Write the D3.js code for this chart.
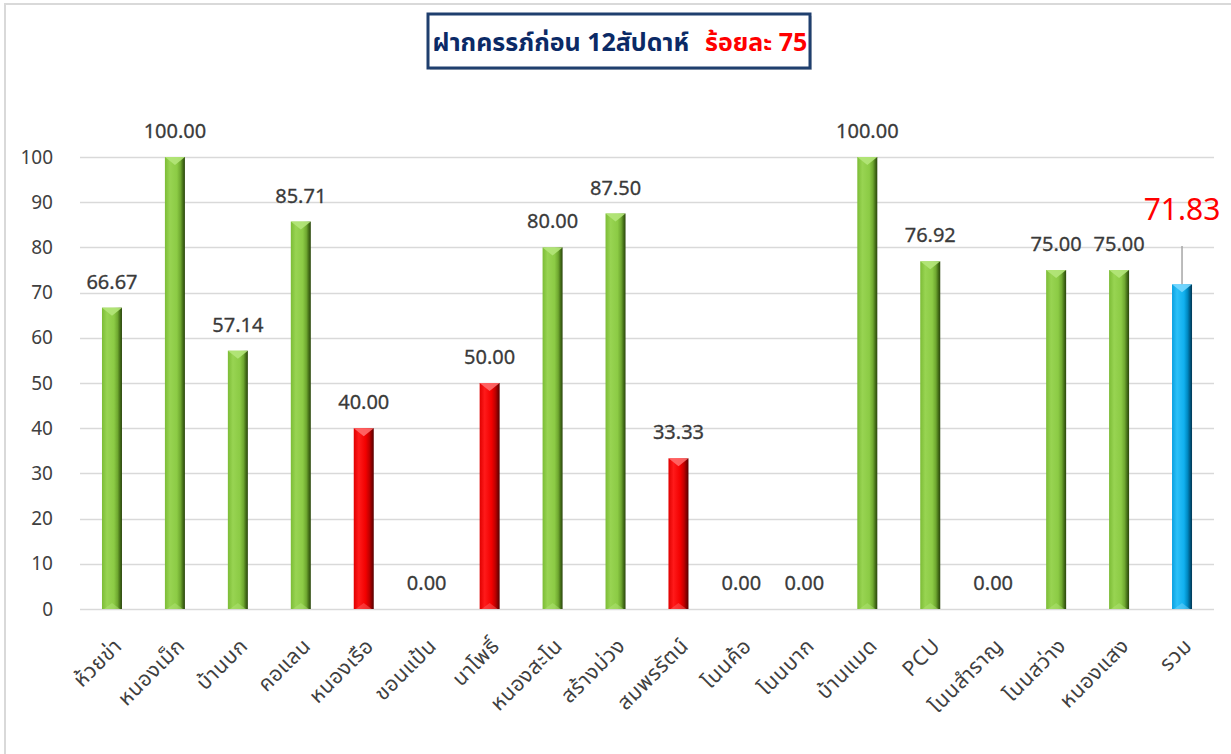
<!DOCTYPE html>
<html>
<head>
<meta charset="utf-8">
<script src="https://cdn.jsdelivr.net/npm/d3@7"></script>
<style>
  html, body { margin: 0; padding: 0; background: #fff; }
  svg { display: block; }
  text { font-family: Tahoma, "Noto Sans Thai", "Noto Sans", "DejaVu Sans", sans-serif; }
</style>
</head>
<body>
<svg id="chart" width="1231" height="754"></svg>
<script>
const categories = ["ห้วยข่า","หนองเม็ก","บ้านบก","คอแลน","หนองเรือ","ขอนแป้น","นาโพธิ์","หนองสะโน","สร้างม่วง","สมพรรัตน์","โนนค้อ","โนนบาก","บ้านแมด","PCU","โนนสำราญ","โนนสว่าง","หนองแสง","รวม"];
const values = [66.67,100.00,57.14,85.71,40.00,0.00,50.00,80.00,87.50,33.33,0.00,0.00,100.00,76.92,0.00,75.00,75.00,71.83];
const belowTarget = ["หนองเรือ","นาโพธิ์","สมพรรัตน์"];
const totalCategory = "รวม";
const yTicks = [0,10,20,30,40,50,60,70,80,90,100];
const titleMain = "ฝากครรภ์ก่อน 12สัปดาห์";
const titleTarget = "ร้อยละ 75";

const svg = d3.select("#chart");
const numFont = 'Tahoma, "Noto Sans", "DejaVu Sans", sans-serif';

// outer chart border
svg.append("rect").attr("x", 5).attr("y", 4).attr("width", 1240).attr("height", 770)
  .attr("fill", "#fff").attr("stroke", "#d9d9d9").attr("stroke-width", 2);

const x = d3.scaleBand().domain(categories).range([80.5, 1213.5]).paddingInner(0).paddingOuter(0);
const y = d3.scaleLinear().domain([0, 100]).range([609, 157]);
const barW = 20;

const defs = svg.append("defs");
function grad(id, stops) {
  const g = defs.append("linearGradient").attr("id", id).attr("x1", "0%").attr("x2", "100%").attr("y1", "0%").attr("y2", "0%");
  stops.forEach(s => g.append("stop").attr("offset", s[0]).attr("stop-color", s[1]));
}
grad("gGreen", [["0%","#7cbc36"],["25%","#98d452"],["60%","#8ccb45"],["78%","#6fa830"],["90%","#456f18"],["100%","#2a450d"]]);
grad("gRed", [["0%","#e00000"],["25%","#ff1a1a"],["60%","#f20000"],["78%","#c00000"],["90%","#850000"],["100%","#550000"]]);
grad("gBlue", [["0%","#0aa0e0"],["25%","#2cc0f8"],["60%","#10b0ef"],["78%","#0088c0"],["90%","#005a84"],["100%","#003552"]]);
const topColor = { gGreen: "#b4e67a", gRed: "#ff6a6a", gBlue: "#7ad8ff" };

function fillId(c) {
  if (c === totalCategory) return "gBlue";
  if (belowTarget.includes(c)) return "gRed";
  return "gGreen";
}

// gridlines
svg.append("g").selectAll("line").data(yTicks).join("line")
  .attr("x1", 80).attr("x2", 1214)
  .attr("y1", d => Math.round(y(d)) + 0.5).attr("y2", d => Math.round(y(d)) + 0.5)
  .attr("stroke", "#d9d9d9").attr("stroke-width", 1.5);

// y axis labels
const yAxis = d3.axisLeft(y).tickValues(yTicks).tickSize(0).tickPadding(0);
const ya = svg.append("g").attr("transform", "translate(53,0)").call(yAxis);
ya.select(".domain").remove();
ya.selectAll("text").attr("font-size", 19).attr("fill", "#404040").style("font-family", numFont);

const data = categories.map((c, i) => ({ c, v: values[i] }));

// bars
const bars = svg.append("g");
data.filter(d => d.v > 0).forEach(d => {
  const cx = x(d.c) + x.bandwidth() / 2;
  const x0 = cx - barW / 2, x1 = cx + barW / 2;
  const yt = y(d.v), yb = y(0);
  const fid = fillId(d.c);
  const g = bars.append("g");
  g.append("rect").attr("x", x0).attr("y", yt).attr("width", barW).attr("height", yb - yt)
    .attr("fill", `url(#${fid})`);
  g.append("path").attr("d", `M${x0},${yt} L${x1},${yt} L${cx},${yt + 8} Z`)
    .attr("fill", topColor[fid]).attr("opacity", 0.9);
  g.append("path").attr("d", `M${x0 + 2},${yb} L${x1 - 2},${yb} L${cx},${yb - 6} Z`)
    .attr("fill", topColor[fid]).attr("opacity", 0.45);
});

// value labels
data.forEach(d => {
  const cx = x(d.c) + x.bandwidth() / 2;
  if (d.c === totalCategory) {
    svg.append("line").attr("x1", cx).attr("x2", cx).attr("y1", 246).attr("y2", y(d.v))
      .attr("stroke", "#a6a6a6").attr("stroke-width", 1.5);
    svg.append("text").attr("x", cx).attr("y", 220).attr("text-anchor", "middle")
      .attr("font-size", 30).attr("fill", "#ff0000").style("font-family", numFont)
      .text(d.v.toFixed(2));
  } else {
    svg.append("text").attr("x", cx).attr("y", y(d.v) - 19).attr("text-anchor", "middle")
      .attr("font-size", 20).attr("fill", "#3a3a3a").style("font-family", numFont)
      .attr("stroke", "#3a3a3a").attr("stroke-width", 0.3)
      .text(d.v.toFixed(2));
  }
});

// x labels
const xa = svg.append("g");
xa.selectAll("text").data(categories).join("text")
  .attr("transform", d => `translate(${x(d) + x.bandwidth() / 2 + 6},642) rotate(-45)`)
  .attr("text-anchor", "end").attr("dy", "0.35em")
  .attr("font-size", 21).attr("fill", "#404040")
  .style("letter-spacing", "0.6px")
  .text(d => d);

// title box
svg.append("rect").attr("x", 430).attr("y", 16).attr("width", 382).attr("height", 54)
  .attr("fill", "#bfbfbf").attr("opacity", 0.6);
svg.append("rect").attr("x", 428).attr("y", 14).attr("width", 382).attr("height", 54)
  .attr("fill", "#fff").attr("stroke", "#1f3f6e").attr("stroke-width", 3);
const tt = svg.append("text").attr("x", 620).attr("y", 51).attr("text-anchor", "middle")
  .attr("font-size", 25).attr("font-weight", "bold");
tt.append("tspan").attr("fill", "#0b2a66").text(titleMain);
tt.append("tspan").attr("fill", "#ff0000").attr("dx", 16).text(titleTarget);
</script>
</body>
</html>
